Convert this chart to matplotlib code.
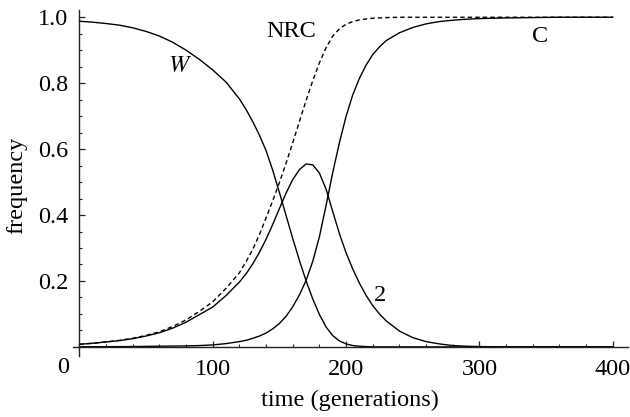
import matplotlib
matplotlib.use("Agg")
import matplotlib.pyplot as plt
from matplotlib.ticker import MultipleLocator, FixedLocator

# values (generations, frequency)
time = [0, 10, 20, 30, 40, 50, 60, 70, 80, 90, 100, 110,
        120, 125, 130, 135, 140, 145, 150, 155, 160, 165, 170, 175,
        180, 185, 190, 195, 200, 205, 210, 215, 220, 225, 230,
        240, 250, 260, 270, 280, 290, 300,
        320, 340, 360, 380, 400]

freq_w = [0.988, 0.985, 0.981, 0.976, 0.968, 0.957, 0.943, 0.924, 0.900, 0.872, 0.840, 0.803,
          0.752, 0.720, 0.683, 0.642, 0.595, 0.535, 0.468, 0.398, 0.328, 0.262, 0.200, 0.145,
          0.098, 0.060, 0.034, 0.018, 0.009, 0.004, 0.002, 0.001, 0.0, 0.0, 0.0,
          0.0, 0.0, 0.0, 0.0, 0.0, 0.0, 0.0,
          0.0, 0.0, 0.0, 0.0, 0.0]

freq_nrc = [0.008, 0.011, 0.015, 0.020, 0.026, 0.035, 0.046, 0.062, 0.082, 0.108, 0.137, 0.178,
            0.225, 0.259, 0.296, 0.341, 0.392, 0.444, 0.499, 0.558, 0.620, 0.684, 0.748, 0.808,
            0.862, 0.908, 0.943, 0.965, 0.979, 0.987, 0.992, 0.995, 0.997, 0.998, 0.999,
            1.0, 1.0, 1.0, 1.0, 1.0, 1.0, 1.0,
            1.0, 1.0, 1.0, 1.0, 1.0]

freq_2 = [0.008, 0.011, 0.015, 0.019, 0.025, 0.033, 0.043, 0.057, 0.075, 0.098, 0.121, 0.156,
          0.197, 0.222, 0.252, 0.287, 0.327, 0.372, 0.420, 0.467, 0.508, 0.538, 0.555, 0.552,
          0.527, 0.478, 0.410, 0.343, 0.285, 0.236, 0.193, 0.156, 0.125, 0.100, 0.079,
          0.048, 0.028, 0.016, 0.009, 0.004, 0.002, 0.001,
          0.0, 0.0, 0.0, 0.0, 0.0]

freq_c = [0.0003, 0.0004, 0.0006, 0.0008, 0.001, 0.0015, 0.002, 0.0025, 0.003, 0.004, 0.006, 0.010,
          0.016, 0.020, 0.026, 0.033, 0.042, 0.055, 0.071, 0.093, 0.122, 0.158, 0.202, 0.260,
          0.335, 0.430, 0.530, 0.620, 0.700, 0.765, 0.815, 0.855, 0.887, 0.910, 0.929,
          0.953, 0.969, 0.980, 0.987, 0.991, 0.994, 0.996,
          0.998, 0.999, 1.0, 1.0, 1.0]

plt.rcParams['font.family'] = ['Liberation Serif', 'DejaVu Serif']
plt.rcParams['mathtext.fontset'] = 'stix'

fig = plt.figure(figsize=(6.3, 4.17), dpi=100)
ax = fig.add_axes([0.116, 0.146, 0.881, 0.830])

ax.plot(time, freq_w, color='black', lw=1.0)
ax.plot(time, freq_2, color='black', lw=1.0)
ax.plot(time, freq_c, color='black', lw=1.0)
ax.plot(time, freq_nrc, color='black', lw=1.0, dashes=(3.2, 2.2))

ax.set_xlim(-4.8, 411.5)
ax.set_ylim(-0.028, 1.022)

for side in ('top', 'right'):
    ax.spines[side].set_visible(False)
ax.spines['left'].set_position(('data', 0))
ax.spines['bottom'].set_position(('data', 0))
for side in ('left', 'bottom'):
    ax.spines[side].set_linewidth(1.0)
    ax.spines[side].set_color('#222222')

ax.xaxis.set_major_locator(FixedLocator([100, 200, 300, 400]))
ax.xaxis.set_minor_locator(MultipleLocator(20))
ax.yaxis.set_major_locator(FixedLocator([0.2, 0.4, 0.6, 0.8, 1.0]))
ax.yaxis.set_minor_locator(MultipleLocator(0.05))
ax.set_yticklabels(['0.2', '0.4', '0.6', '0.8', '1.0'])

ax.tick_params(which='both', direction='in', color='#222222', labelsize=17.5)
ax.tick_params(which='major', length=4.5, width=0.9)
ax.tick_params(which='minor', length=2.5, width=0.8)
ax.tick_params(axis='x', pad=9)
ax.tick_params(axis='y', pad=8)

ax.annotate('0', xy=(0, 0), xytext=(-12, -15), textcoords='offset points',
            ha='center', va='center', fontsize=17.5)

fig.text(0.556, 0.040, 'time (generations)', ha='center', va='center', fontsize=17.5)
fig.text(0.027, 0.556, 'frequency', ha='center', va='center', rotation=90, fontsize=17.5)

ax.text(75.5, 0.85, '$W$', ha='center', va='center', fontsize=17.5)
ax.text(158.5, 0.956, 'NRC', ha='center', va='center', fontsize=17.5)
ax.text(345.5, 0.941, 'C', ha='center', va='center', fontsize=17.5)
ax.text(225.5, 0.157, '2', ha='center', va='center', fontsize=17.5)

fig.savefig('out.png', dpi=100)
